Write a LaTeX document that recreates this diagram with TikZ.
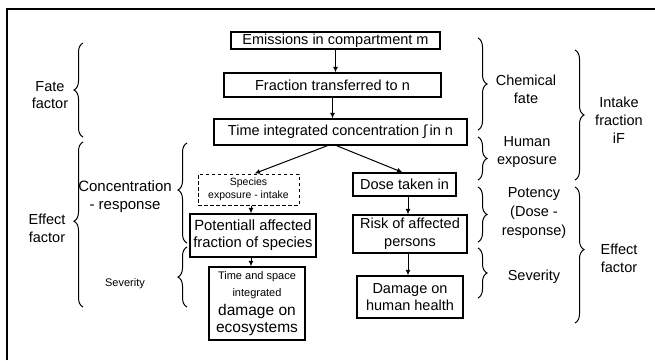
\documentclass[tikz,border=0pt]{standalone}
\usepackage{fontspec}
\setmainfont{Liberation Sans}
\usetikzlibrary{decorations.pathreplacing,arrows.meta,calc}
\tikzset{
  box/.style={draw, line width=1.3pt, inner sep=0pt, align=center, font=\fontsize{14.5}{17.5}\selectfont},
  dbox/.style={box, dashed, line width=1pt, dash pattern=on 3.5pt off 2.5pt, font=\fontsize{10.5}{13}\selectfont},
  arr/.style={line width=1pt, -{Latex[length=5.5pt,width=5pt]}},
  lbl/.style={align=center, inner sep=0pt, font=\fontsize{14.5}{17.8}\selectfont},
  slbl/.style={align=center, inner sep=0pt, font=\fontsize{11}{13}\selectfont},
  brc/.style={decorate, decoration={brace, amplitude=9pt}, line width=1pt},
  frame/.style={line width=1.8pt}
}
\begin{document}
\begin{tikzpicture}[x=1pt,y=-1pt]
\useasboundingbox (0,0) rectangle (655,360);
% frame
\coordinate (fa) at (7,360);
\coordinate (fb) at (7,9);
\coordinate (fc) at (655,9);
\draw[frame] (fa) -- (fb) -- (fc);

% boxes
\node[box, minimum width=209pt, minimum height=17pt] (em) at (335.5,40.5) {Emissions in compartment m};
\node[box, minimum width=217pt, minimum height=24pt] (fr) at (332.5,85) {Fraction transferred to n};
\node[box, minimum width=253pt, minimum height=26pt] (tm) at (340.5,132) {Time integrated concentration ∫\,in n};
\node[dbox, minimum width=101pt, minimum height=31pt] (sp) at (248.5,189.5) {Species\\exposure - intake};
\node[box, minimum width=103pt, minimum height=23pt] (do) at (404.5,184.5) {Dose taken in};
\node[box, minimum width=126pt, minimum height=43pt, font=\fontsize{14.8}{17}\selectfont] (pa) at (253,235.5) {Potentiall affected\\fraction of species};
\node[box, minimum width=114pt, minimum height=38pt, font=\fontsize{14.5}{18}\selectfont] (ri) at (410,234) {Risk of affected\\persons};
\node[box, minimum width=96pt, minimum height=73pt] (ec) at (257,303.5) {\fontsize{11}{13}\selectfont Time and space\\\fontsize{11}{13}\selectfont integrated\\[1pt]\fontsize{15.5}{17}\selectfont damage on\\\fontsize{15.5}{17}\selectfont ecosystems};
\node[box, minimum width=106pt, minimum height=42pt, font=\fontsize{14.5}{17}\selectfont] (dh) at (410,297) {Damage on\\human health};

% arrows
\draw[arr] (em.south) -- (em.south |- fr.north);
\draw[arr] (fr.south) -- (fr.south |- tm.north);
\draw[arr] ([xshift=-13pt]tm.south) -- ([xshift=6pt]sp.north);
\draw[arr] ([xshift=-4pt]tm.south) -- ([xshift=-2pt]do.north);
\draw[arr] ([xshift=2.5pt]sp.south) -- ([xshift=2.5pt]sp.south |- pa.north);
\draw[arr] ([xshift=-2pt]pa.south) -- ([xshift=-2pt]pa.south |- ec.north);
\draw[arr] ([xshift=3.5pt]do.south) -- ([xshift=3.5pt]do.south |- ri.north);
\draw[arr] ([xshift=-2pt]ri.south) -- ([xshift=-2pt]ri.south |- dh.north);

% left braces
\coordinate (b1a) at (83,137); \coordinate (b1b) at (83,43);
\draw[brc] (b1a) -- (b1b);
\node[lbl] (t1) at (50,95) {Fate\\factor};
\coordinate (b2a) at (83,307); \coordinate (b2b) at (83,142);
\draw[brc, decoration={brace, amplitude=9pt, aspect=0.52}] (b2a) -- (b2b);
\node[lbl] (t2) at (47,228) {Effect\\factor};
\coordinate (b3a) at (187,243); \coordinate (b3b) at (187,143);
\draw[brc, decoration={brace, amplitude=9pt, aspect=0.53}] (b3a) -- (b3b);
\node[lbl, font=\fontsize{15}{17.8}\selectfont] (t3) at (125,197) {Concentration\\- response};
\coordinate (b4a) at (187,307); \coordinate (b4b) at (187,247);
\draw[brc] (b4a) -- (b4b);
\node[slbl] (t4) at (125,284) {Severity};

% right braces
\coordinate (r1a) at (478,38); \coordinate (r1b) at (478,130);
\draw[brc] (r1a) -- (r1b);
\node[lbl] (u1) at (526,89) {Chemical\\fate};
\coordinate (r2a) at (478,137); \coordinate (r2b) at (478,180);
\draw[brc] (r2a) -- (r2b);
\node[lbl] (u2) at (527,152) {Human\\exposure};
\coordinate (r3a) at (478,187); \coordinate (r3b) at (478,242);
\draw[brc] (r3a) -- (r3b);
\node[lbl, font=\fontsize{14.5}{19}\selectfont] (u3) at (534,213) {Potency\\(Dose -\\response)};
\coordinate (r4a) at (478,248); \coordinate (r4b) at (478,298);
\draw[brc] (r4a) -- (r4b);
\node[lbl] (u4) at (534,277) {Severity};
\coordinate (r5a) at (575,50); \coordinate (r5b) at (575,180);
\draw[brc] (r5a) -- (r5b);
\node[lbl, font=\fontsize{14.5}{18}\selectfont] (u5) at (619,120) {Intake\\fraction\\iF};
\coordinate (r6a) at (575,187); \coordinate (r6b) at (575,323);
\draw[brc, decoration={brace, amplitude=9pt, aspect=0.46}] (r6a) -- (r6b);
\node[lbl] (u6) at (619,258) {Effect\\factor};
\end{tikzpicture}
\end{document}
